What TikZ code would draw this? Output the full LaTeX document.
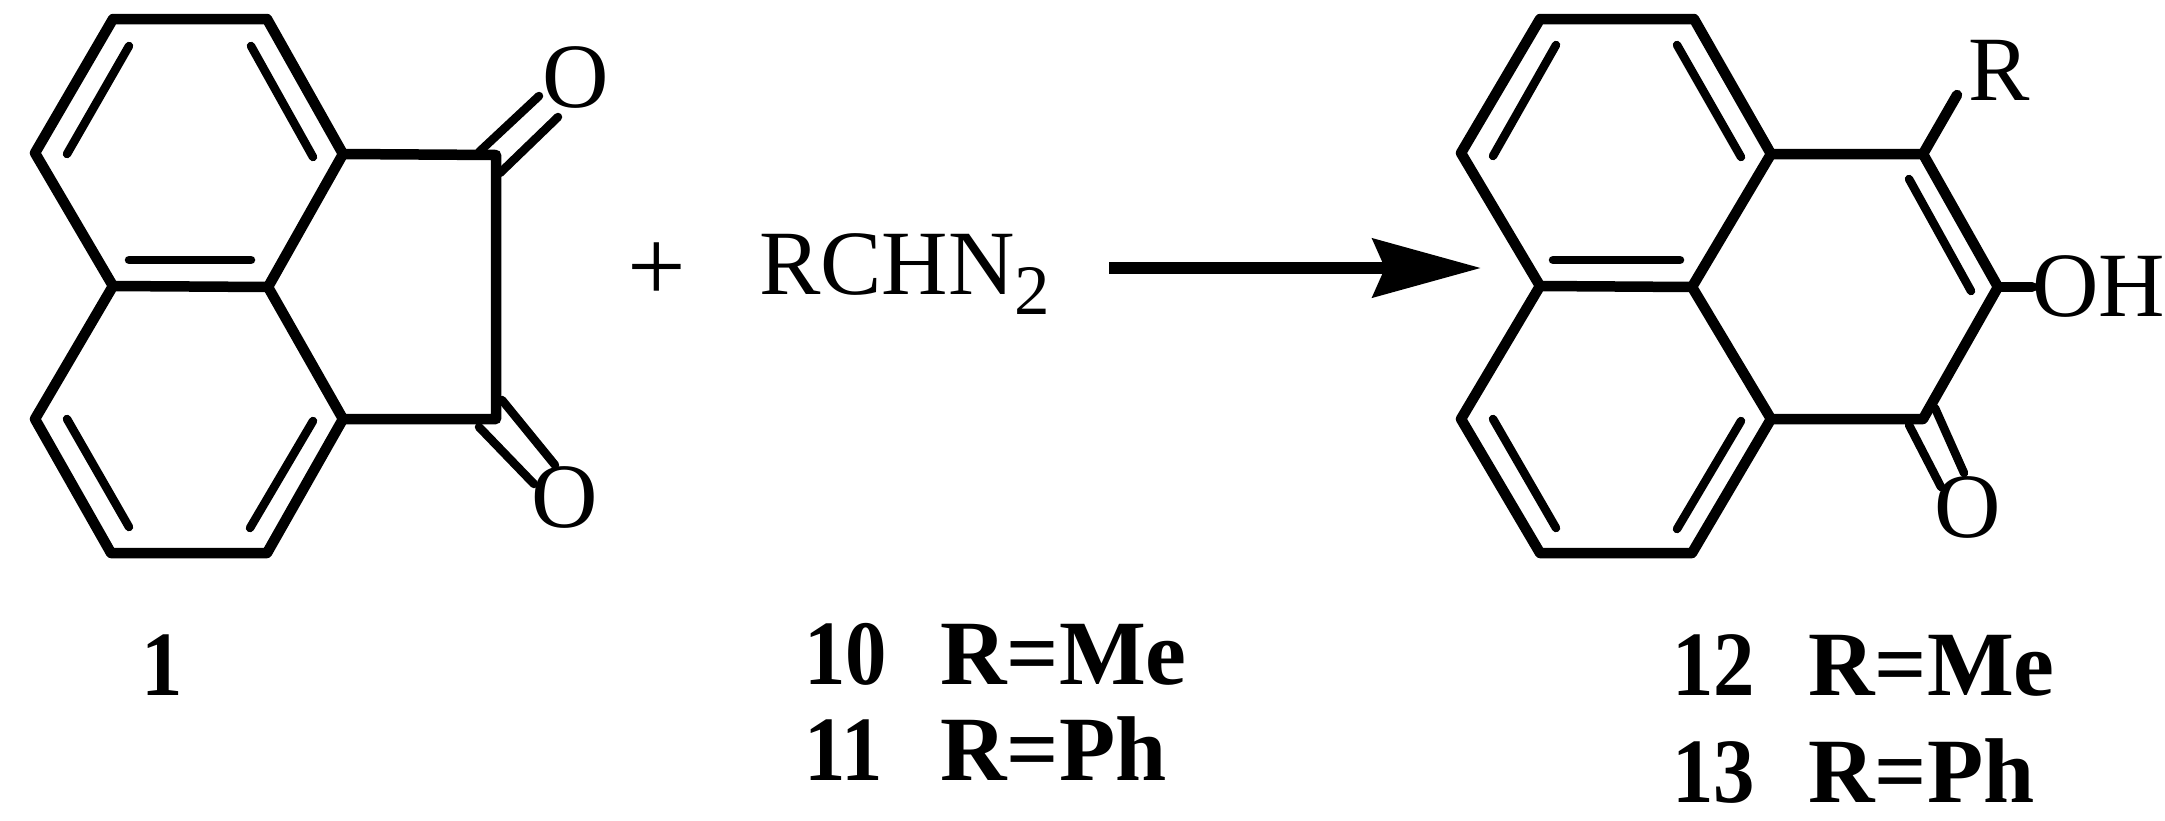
\documentclass[tikz,border=0pt]{standalone}
\usepackage{fontspec}
\setmainfont{Liberation Serif}
\usetikzlibrary{arrows.meta}
\newcommand{\cpdnum}[1]{\makebox[136pt][l]{\scalebox{0.9}[1]{#1}}}
\tikzset{
	bond/.style={line width=10.5pt,line join=round,line cap=round},
	inner bond/.style={line width=8.5pt,line cap=round},
	atom/.style={anchor=base west,inner sep=0pt,font=\fontsize{92}{92}\selectfont},
	oxygen/.style={inner sep=0pt,font=\fontsize{92}{92}\selectfont},
	compound/.style={anchor=base west,inner sep=0pt,font=\fontsize{92}{92}\selectfont\bfseries}
}
\begin{document}
\begin{tikzpicture}[x=1pt,y=-1pt]
	\useasboundingbox (0,0) rectangle (2165,820);
	\coordinate (a1) at (113,19);
	\coordinate (a2) at (267,19);
	\coordinate (a3) at (343,154);
	\coordinate (a4) at (268,287);
	\coordinate (a5) at (113,286);
	\coordinate (a6) at (35,153);
	\coordinate (a7) at (35,419);
	\coordinate (a8) at (111,553);
	\coordinate (a9) at (267,553);
	\coordinate (a10) at (343,419);
	\coordinate (c1) at (496,155);
	\coordinate (c2) at (496,419);
	\draw[bond] (a5) -- (a6) -- (a1) -- (a2) -- (a3) -- (a4) -- (a5) -- (a7) -- (a8) -- (a9) -- (a10) -- (a4);
	\draw[bond] (a3) -- (c1) -- (c2) -- (a10);
	\draw[inner bond] (129,46) -- (67,154);
	\draw[inner bond] (251,46) -- (313,157);
	\draw[inner bond] (129,260) -- (251,260);
	\draw[inner bond] (67,419) -- (129,527);
	\draw[inner bond] (313,421) -- (250,528);
	\draw[inner bond] (479,152) -- (539,96);
	\draw[inner bond] (500,173) -- (558,117);
	\draw[inner bond] (479,427) -- (534,484);
	\draw[inner bond] (502,400) -- (555,465);
	\node[oxygen] at (576,77) (o1) {O};
	\node[oxygen] at (565,497) (o2) {O};
	\node[oxygen,font=\fontsize{104}{104}\selectfont] at (657,272) (add) {+};
	\node[atom] at (759,294) (diazo) {RCHN{\fontsize{71}{71}\selectfont\raisebox{-20pt}{2}}};
	\coordinate (start) at (1109,268);
	\coordinate (end) at (1481,268);
	\draw[line width=11.5pt,-{Stealth[length=108pt,width=58pt,inset=12pt]}] (start) -- (end);
	\coordinate (b1) at (1540,19);
	\coordinate (b2) at (1694,19);
	\coordinate (b3) at (1771,154);
	\coordinate (b4) at (1692,287);
	\coordinate (b5) at (1540,286);
	\coordinate (b6) at (1461,153);
	\coordinate (b7) at (1461,419);
	\coordinate (b8) at (1540,553);
	\coordinate (b9) at (1692,553);
	\coordinate (b10) at (1771,419);
	\coordinate (d1) at (1923,154);
	\coordinate (d2) at (1998,287);
	\coordinate (d3) at (1923,419);
	\coordinate (r1) at (1957,95);
	\draw[bond] (b5) -- (b6) -- (b1) -- (b2) -- (b3) -- (b4) -- (b5) -- (b7) -- (b8) -- (b9) -- (b10) -- (b4);
	\draw[bond] (b3) -- (d1) -- (d2) -- (d3) -- (b10);
	\draw[bond] (d1) -- (r1);
	\node[atom] at (2032,316) (hydroxy) {OH};
	\draw[bond] (d2) -- (hydroxy.west |- d2);
	\draw[inner bond] (1556,45) -- (1493,156);
	\draw[inner bond] (1677,45) -- (1741,157);
	\draw[inner bond] (1553,260) -- (1680,260);
	\draw[inner bond] (1493,419) -- (1556,528);
	\draw[inner bond] (1741,421) -- (1677,529);
	\draw[inner bond] (1909,179) -- (1971,291);
	\draw[inner bond] (1909,425) -- (1941,487);
	\draw[inner bond] (1935,408) -- (1964,473);
	\node[atom] at (1968,100) (r2) {R};
	\node[oxygen] at (1968,507) (o3) {O};
	\node[compound] at (141,695) (n1) {\scalebox{0.9}[1]{1}};
	\node[compound] at (804,684) (n10) {\cpdnum{10}R=Me};
	\node[compound] at (804,780) (n11) {\cpdnum{11}R=Ph};
	\node[compound] at (1672,695) (n12) {\cpdnum{12}R=Me};
	\node[compound] at (1672,802) (n13) {\cpdnum{13}R=Ph};
\end{tikzpicture}
\end{document}
